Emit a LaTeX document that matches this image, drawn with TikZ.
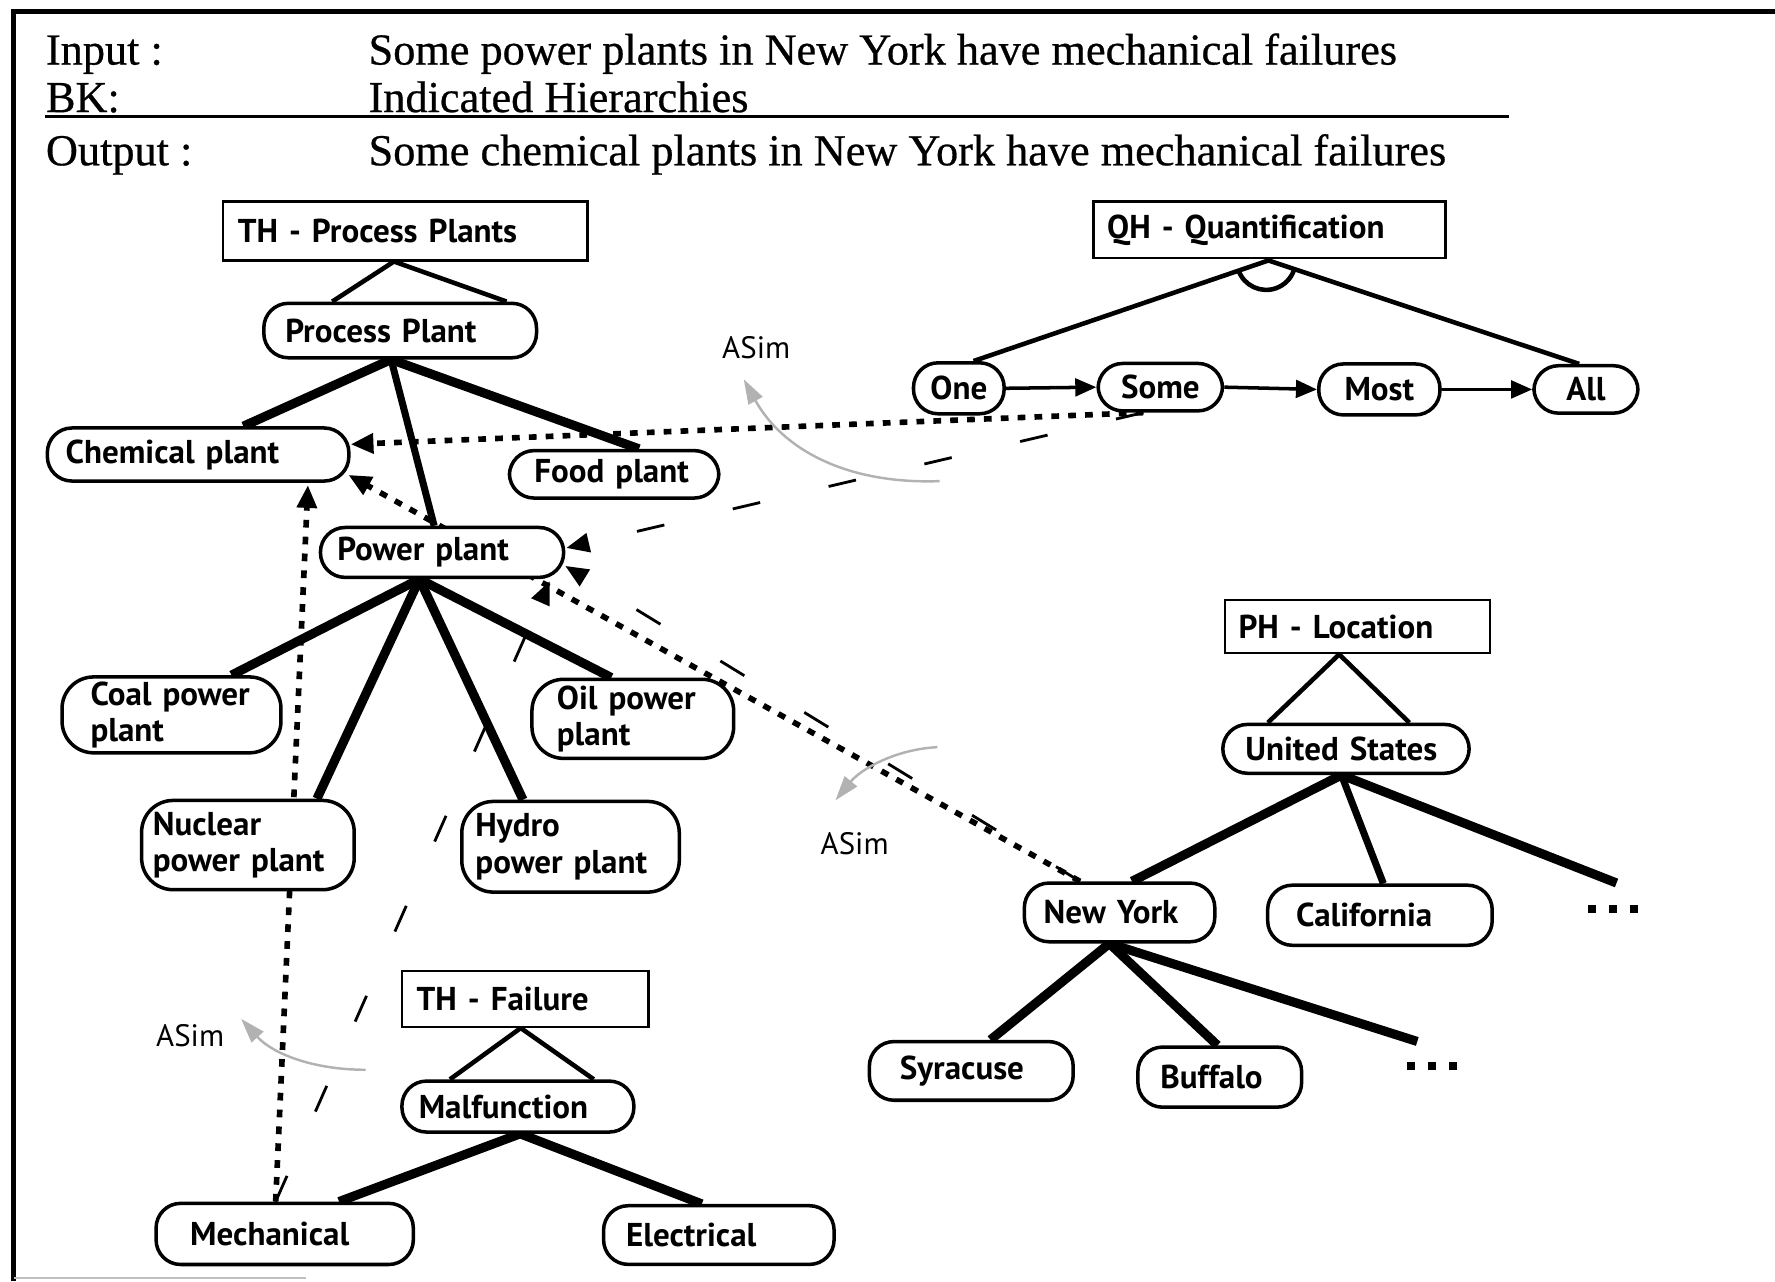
\documentclass[tikz,border=0pt]{standalone}
\usepackage{fontspec}
\setmainfont{Liberation Serif}
\newfontfamily\nodefam{PT Sans}
\usetikzlibrary{arrows.meta,calc,backgrounds}
\newcommand{\nf}{\nodefam\bfseries\fontsize{9.4}{10.3}\selectfont}
\newcommand{\af}{\nodefam\fontsize{8.8}{10}\selectfont}
\newcommand{\hf}{\fontsize{12.6}{14}\selectfont\addfontfeature{FakeBold=0.6}}
\newcommand{\tdots}{\rule{2.3pt}{2.3pt}\hspace{3.6pt}\rule{2.3pt}{2.3pt}\hspace{3.6pt}\rule{2.3pt}{2.3pt}}
\begin{document}
\begin{tikzpicture}[x=0.01132cm,y=-0.01132cm,
  nd/.style={draw, line width=1pt, rounded corners=7pt, fill=white, font=\nf, inner ysep=0pt, align=left},
  nd2/.style={nd, rounded corners=9pt},
  ndc/.style={nd, align=center, inner xsep=0pt},
  hb/.style={draw, line width=0.7pt, fill=white, font=\nf, inner ysep=0pt, align=left},
  hd/.style={anchor=base west, font=\hf, inner sep=0pt},
  tri/.style={line width=1.3pt},
  br/.style={line width=2.6pt},
  brt/.style={line width=2pt},
  qa/.style={line width=1pt, -{Triangle[length=6pt,width=5pt]}},
  outdot/.style={line width=1.6pt, dash pattern=on 2.2pt off 2.6pt, -{Triangle[length=6.5pt,width=5.5pt]}},
  outdash/.style={line width=0.8pt, dash pattern=on 8pt off 20pt, -{Triangle[length=6.5pt,width=5.5pt]}},
  asimarr/.style={gray!60, line width=0.7pt, -{Triangle[length=7pt,width=4.5pt]}},
  lbl/.style={font=\af, inner sep=0pt},
]
\useasboundingbox (0,0) rectangle (1568,1132);
% frame
\draw[line width=1.3pt] (12,1132) -- (12,10) -- (1568,10);
\draw[gray!50, line width=0.6pt] (12,1129) -- (270,1129);
% header
\node[hd] (inl) at (40,57) {Input :};
\node[hd] (inv) at (325,57) {Some power plants in New York have mechanical failures};
\node[hd] (bkl) at (40,99) {BK:};
\node[hd] (bkv) at (325,99) {Indicated Hierarchies};
\node[hd] (outl) at (40,146) {Output :};
\node[hd] (outv) at (325,146) {Some chemical plants in New York have mechanical failures};
\draw[line width=0.7pt] (40,103) -- (1333,103);

% title boxes
\node[hb, inner xsep=4.2pt, text width=95.3pt, minimum height=16.7pt] (thpp) at (358,204) {TH - Process Plants};
\node[hb, inner xsep=3.9pt, text width=92.4pt, minimum height=16.1pt] (qh) at (1121.5,203) {QH - Quantification};
\node[hb, inner xsep=3.9pt, text width=67.6pt, minimum height=15.1pt] (ph) at (1199,553.5) {PH - Location};
\node[hb, inner xsep=4.2pt, text width=61.8pt, minimum height=15.8pt] (thf) at (464,882.5) {TH - Failure};

% process plants
\node[nd, inner xsep=6.1pt, text width=65.4pt, minimum height=15.5pt] (pp) at (353.5,292) {Process~Plant};
\node[nd, inner xsep=5.2pt, text width=75.4pt, minimum height=15.1pt] (chem) at (175,401.5) {Chemical~plant};
\node[nd, inner xsep=7.1pt, text width=45.4pt, minimum height=13.5pt] (food) at (542.5,419) {Food~plant};
\node[nd, inner xsep=4.8pt, text width=59.6pt, minimum height=14.2pt] (pow) at (390.5,488) {Power~plant};
\node[nd2, inner xsep=8.1pt, text width=46.1pt, minimum height=21.6pt] (coal) at (151.5,631.5) {Coal~power\\plant};
\node[nd2, inner xsep=7.1pt, text width=43.2pt, minimum height=22.5pt] (oil) at (559,635) {Oil~power\\plant};
\node[nd2, inner xsep=3.2pt, text width=54.1pt, minimum height=25.4pt] (nuc) at (219,746.5) {Nuclear\\power~plant};
\node[nd2, inner xsep=3.9pt, text width=54.1pt, minimum height=25.8pt] (hyd) at (504,748) {Hydro\\power~plant};

% quantification
\node[ndc, minimum width=25.8pt, minimum height=14.5pt] (one) at (847,343) {One};
\node[ndc, minimum width=35.4pt, minimum height=13.5pt] (some) at (1025,342) {Some};
\node[ndc, minimum width=34.5pt, minimum height=14.5pt] (most) at (1218.5,344) {Most};
\node[ndc, minimum width=29.6pt, minimum height=13.5pt] (all) at (1401,344) {All};

% location
\node[nd, inner xsep=6.4pt, text width=57.3pt, minimum height=13.9pt] (us) at (1189,661.5) {United~States};
\node[nd, inner xsep=5.5pt, text width=43.2pt, minimum height=16.7pt] (ny) at (989,806) {New~York};
\node[nd, inner xsep=8.1pt, text width=47.7pt, minimum height=17.1pt] (cal) at (1219,808.5) {California};
\node[nd, inner xsep=8.7pt, text width=40.6pt, minimum height=16.7pt] (syr) at (858,946) {Syracuse};
\node[nd, inner xsep=6.4pt, text width=33.8pt, minimum height=17.1pt] (buf) at (1077.5,951.5) {Buffalo};
\node[inner sep=0pt] (dotsA) at (1425,803) {\tdots};
\node[inner sep=0pt] (dotsB) at (1265,942) {\tdots};
\coordinate (endA) at (1428,780);
\coordinate (endB) at (1252,920);

% failure
\node[nd, inner xsep=4.8pt, text width=56.4pt, minimum height=14.5pt] (mal) at (457.5,977.5) {Malfunction};
\node[nd, inner xsep=9.7pt, text width=53.8pt, minimum height=17.4pt] (mech) at (251.5,1090) {Mechanical};
\node[nd, inner xsep=6.4pt, text width=52.8pt, minimum height=16.7pt] (elec) at (635,1091) {Electrical};

% ASim labels
\node[lbl] (asimA) at (668,307) {ASim};
\node[lbl] (asimB) at (755,745) {ASim};
\node[lbl] (asimC) at (168,915) {ASim};

\begin{scope}[on background layer]
 % hierarchy triangles
 \draw[tri] ($(pp.north)+(-60,0)$) -- ($(thpp.south)+(-10,0)$) -- ($(pp.north)+(94,0)$);
 \draw[tri] ($(one.north)+(13,0)$) -- ($(qh.south)+(-1,1)$) -- ($(all.north)+(-6,0)$);
 \draw[tri] ($(qh.south)+(-3,1)$) ++(160:26) arc[start angle=160,end angle=20,radius=26];
 \draw[tri] ($(us.north)+(-69,0)$) -- ($(ph.south)+(-16,0)$) -- ($(us.north)+(56,0)$);
 \draw[tri] ($(mal.north)+(-60,0)$) -- ($(thf.south)+(-4,0)$) -- ($(mal.north)+(67,0)$);
 % branches
 \draw[br] ($(pp.south)+(-8,0)$) -- ($(chem.north)+(40,0)$);
 \draw[brt] ($(pp.south)+(-8,0)$) -- ($(pow.north)+(-7,0)$);
 \draw[br] ($(pp.south)+(-8,0)$) -- ($(food.north)+(22,0)$);
 \draw[br] ($(pow.south)+(-20,0)$) -- ($(coal.north)+(53,0)$);
 \draw[br] ($(pow.south)+(-20,0)$) -- ($(nuc.north)+(61,0)$);
 \draw[br] ($(pow.south)+(-20,0)$) -- ($(hyd.north)+(-42,0)$);
 \draw[br] ($(pow.south)+(-20,0)$) -- ($(oil.north)+(-19,0)$);
 \draw[br] ($(us.south)+(-4,0)$) -- ($(ny.north)+(11,0)$);
 \draw[brt] ($(us.south)+(-4,0)$) -- ($(cal.north)+(3,0)$);
 \draw[br] ($(us.south)+(-4,0)$) -- (endA);
 \draw[br] ($(ny.south)+(-9,0)$) -- ($(syr.north)+(17,0)$);
 \draw[br] ($(ny.south)+(-9,0)$) -- ($(buf.north)+(-2,0)$);
 \draw[br] ($(ny.south)+(-9,0)$) -- (endB);
 \draw[br] ($(mal.south)+(2,0)$) -- ($(mech.north)+(48,0)$);
 \draw[br] ($(mal.south)+(2,0)$) -- ($(elec.north)+(-15,0)$);
 % quantification order
 \draw[qa] (one.east) -- (some.west);
 \draw[qa] (some.east) -- (most.west);
 \draw[qa] (most.east) -- (all.west);
 % output mappings
 \draw[outdot] ($(some.south)+(-15,0)$) -- ($(chem.east)+(0,-9)$);
 \draw[outdot] ($(ny.north)+(-35,0)$) -- ($(chem.east)+(-2,18)$);
 \draw[outdot] ($(mech.north)+(-8,0)$) -- ($(chem.south)+(97,2)$);
 \draw[outdash] ($(some.south)+(-15,0)$) -- ($(pow.east)+(1,-4)$);
 \draw[outdash] ($(ny.north)+(-35,0)$) -- ($(pow.east)+(0,12)$);
 \draw[outdash] ($(mech.north)+(-8,0)$) -- ($(pow.south east)+(-14,2)$);
\end{scope}

% ASim curved arrows
\draw[asimarr] (830,425) .. controls (745,428) and (690,395) .. (657,335);
\draw[asimarr] (828,660) .. controls (790,662) and (760,680) .. (738,707);
\draw[asimarr] (323,945) .. controls (275,945) and (240,930) .. (213,900);
\end{tikzpicture}
\end{document}
